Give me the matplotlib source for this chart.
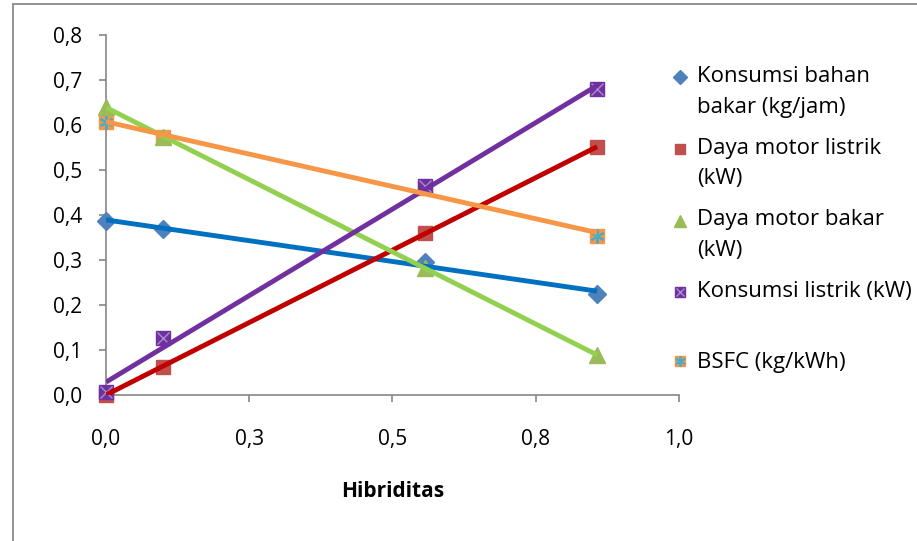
import numpy as np
import matplotlib.pyplot as plt
from matplotlib.lines import Line2D
from matplotlib.patches import Rectangle
from matplotlib.ticker import FuncFormatter
from matplotlib.transforms import Affine2D
from matplotlib.legend_handler import HandlerBase, HandlerLine2D, HandlerTuple

plt.rcParams['font.family'] = ['Open Sans', 'DejaVu Sans']

hibriditas = [0.0, 0.1, 0.557, 0.857]
konsumsi_bb = [0.387, 0.368, 0.295, 0.224]
daya_listrik = [0.0, 0.062, 0.359, 0.551]
daya_bakar = [0.639, 0.574, 0.281, 0.088]
konsumsi_listrik = [0.006, 0.126, 0.464, 0.680]
bsfc = [0.606, 0.574, 0.46, 0.352]

x_ticks = [0.0, 0.25, 0.5, 0.75, 1.0]
x_tick_labels = ['0,0', '0,3', '0,5', '0,8', '1,0']
y_ticks = [0.0, 0.1, 0.2, 0.3, 0.4, 0.5, 0.6, 0.7, 0.8]

labels = ['Konsumsi bahan\nbakar (kg/jam)', 'Daya motor listrik\n(kW)',
          'Daya motor bakar\n(kW)', 'Konsumsi listrik (kW)\n ', 'BSFC (kg/kWh)']


class Raised(HandlerBase):
    # puts the legend marker on the first text line, like excel does
    def __init__(self, inner, shift):
        super().__init__()
        self.inner = inner
        self.shift = shift

    def create_artists(self, legend, orig_handle, xdescent, ydescent, width, height, fontsize, trans):
        t = Affine2D().translate(0, self.shift) + trans
        return self.inner.create_artists(legend, orig_handle, xdescent, ydescent,
                                         width, height, fontsize, t)


fig = plt.figure(figsize=(9.17, 5.41), dpi=100)
ax = fig.add_axes([106 / 917, 1 - 394.5 / 541, 573 / 917, 359.5 / 541])

series = [konsumsi_bb, daya_listrik, daya_bakar, konsumsi_listrik, bsfc]
line_colors = ['#0070C0', '#C00000', '#92D050', '#7030A0', '#F79646']

# markers
ax.plot(hibriditas, konsumsi_bb, 'D', ms=9, color='#4F81BD', ls='none', zorder=3, clip_on=False)
ax.plot(hibriditas, daya_listrik, 's', ms=10, color='#C0504D', ls='none', zorder=3, clip_on=False)
ax.plot(hibriditas, daya_bakar, '^', ms=11, color='#9BBB59', ls='none', zorder=3, clip_on=False)
ax.plot(hibriditas, konsumsi_listrik, 's', ms=10, color='#7030A0', ls='none', zorder=3, clip_on=False)
ax.plot(hibriditas, konsumsi_listrik, 'x', ms=9, mew=1, color='#A58FC8', ls='none', zorder=3, clip_on=False)
ax.plot(hibriditas, bsfc, 's', ms=10, color='#F79646', ls='none', zorder=2.5, clip_on=False)
ax.plot(hibriditas, bsfc, marker=(6, 2, 0), ms=10, mew=1.5, color='#4BACC6', ls='none',
        zorder=2.6, clip_on=False)

# linear trendlines
x = np.array(hibriditas)
for ys, c in zip(series, line_colors):
    k, b = np.polyfit(x, ys, 1)
    xx = np.array([x.min(), x.max()])
    ax.plot(xx, k * xx + b, color=c, lw=3.5, zorder=4, solid_capstyle='butt')

ax.set_xlim(0, 1.0)
ax.set_ylim(0, 0.8)
ax.set_xticks(x_ticks)
ax.set_xticklabels(x_tick_labels)
ax.set_yticks(y_ticks)
ax.yaxis.set_major_formatter(FuncFormatter(lambda v, p: f'{v:.1f}'.replace('.', ',')))
for s in ['top', 'right']:
    ax.spines[s].set_visible(False)
for s in ['left', 'bottom']:
    ax.spines[s].set_color('#868686')
    ax.spines[s].set_linewidth(1.2)
ax.tick_params(axis='both', direction='out', length=5, width=1.2, color='#868686', labelsize=15)
ax.tick_params(axis='x', pad=20)
ax.tick_params(axis='y', pad=12)
ax.set_xlabel('Hibriditas', fontsize=15, fontweight='bold', labelpad=22)

h_kbb = Line2D([], [], marker='D', ms=7, color='#4F81BD', ls='none')
h_dml = Line2D([], [], marker='s', ms=7.5, color='#C0504D', ls='none')
h_dmb = Line2D([], [], marker='^', ms=8.5, color='#9BBB59', ls='none')
h_kl = (Line2D([], [], marker='s', ms=7.5, color='#7030A0', ls='none'),
        Line2D([], [], marker='x', ms=6, mew=1, color='#A58FC8', ls='none'))
h_bsfc = (Line2D([], [], marker='s', ms=7.5, color='#F79646', ls='none'),
          Line2D([], [], marker=(6, 2, 0), ms=7.5, mew=1.3, color='#4BACC6', ls='none'))
handles = [h_kbb, h_dml, h_dmb, h_kl, h_bsfc]

up = 10.5
hmap = {h_kbb: Raised(HandlerLine2D(), up), h_dml: Raised(HandlerLine2D(), up),
        h_dmb: Raised(HandlerLine2D(), up), h_kl: Raised(HandlerTuple(), up),
        h_bsfc: HandlerTuple()}

leg = fig.legend(handles, labels, loc='upper left', bbox_to_anchor=(671 / 917, 1 - 66 / 541),
                 frameon=False, fontsize=16, handlelength=0.8, handletextpad=0.37,
                 labelspacing=0.9, borderaxespad=0, borderpad=0, handler_map=hmap)
for t in leg.get_texts():
    t.set_linespacing(1.6)

fig.add_artist(Rectangle((12.5 / 917, -0.1), 1.2, 1.1 - 4 / 541, transform=fig.transFigure,
                         fill=False, edgecolor='#808080', lw=1.2))

fig.savefig('out.png', dpi=100)
